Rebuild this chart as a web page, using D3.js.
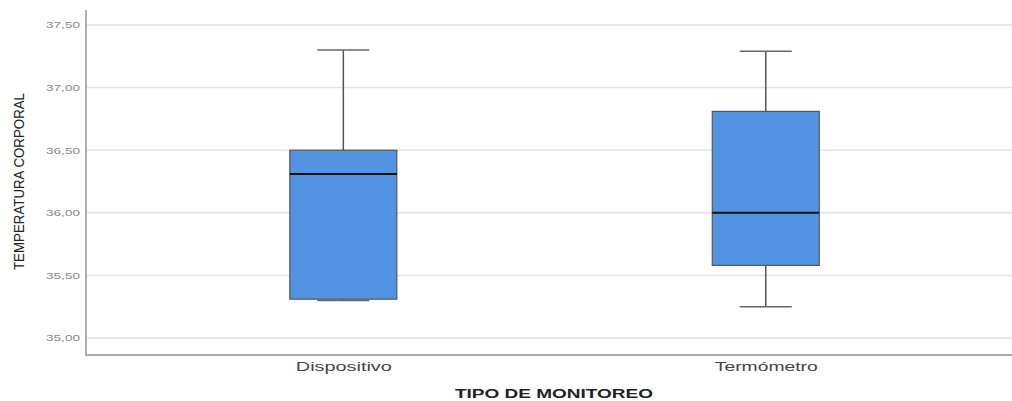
<!DOCTYPE html>
<html><head><meta charset="utf-8">
<script src="https://cdn.jsdelivr.net/npm/d3@7"></script>
<style>body{margin:0;background:#fff}svg{display:block}</style>
</head><body>
<div id="chart"></div>
<script>
const categories = ["Dispositivo", "Termómetro"];
const whiskerLow = [35.30, 35.25];
const q1 = [35.31, 35.58];
const median = [36.31, 36.00];
const q3 = [36.50, 36.81];
const whiskerHigh = [37.30, 37.29];
const yTicks = [35.0, 35.5, 36.0, 36.5, 37.0, 37.5];

const W = 1012, H = 401;
const mLeft = 86, mRight = 1012, mTop = 10, mBottom = 355;
const svg = d3.select("#chart").append("svg").attr("width", W).attr("height", H);

const y = d3.scaleLinear().domain([34.864, 37.62]).range([mBottom, mTop]);
const x = d3.scalePoint().domain(categories).range([mLeft, mRight]).padding(0.596).align(0.511);
const fmt = v => d3.format(".2f")(v).replace(".", ",");

// gridlines
svg.append("g").selectAll("line").data(yTicks).join("line")
  .attr("x1", mLeft).attr("x2", mRight)
  .attr("y1", d => y(d)).attr("y2", d => y(d))
  .attr("stroke", "#e2e2e2").attr("stroke-width", 1.5);

// y axis
const yAxis = svg.append("g").attr("transform", `translate(${mLeft},0)`)
  .call(d3.axisLeft(y).tickValues(yTicks).tickFormat(fmt).tickSize(0).tickPadding(6));
yAxis.select(".domain").remove();
yAxis.selectAll("text").attr("fill", "#8a8a8a").attr("textLength", 34).attr("lengthAdjust", "spacingAndGlyphs")
  .style("font-family", "Liberation Sans, Arial, sans-serif").style("font-size", "9px");
svg.append("line").attr("x1", mLeft).attr("x2", mLeft).attr("y1", mTop).attr("y2", mBottom)
  .attr("stroke", "#b0b0b0").attr("stroke-width", 2);

// x axis
const xAxis = svg.append("g").attr("transform", `translate(0,${mBottom})`)
  .call(d3.axisBottom(x).tickSize(0).tickPadding(7));
xAxis.select(".domain").remove();
xAxis.selectAll("text").attr("fill", "#444").attr("lengthAdjust", "spacingAndGlyphs")
  .attr("textLength", (d, i) => [96, 103][i])
  .style("font-family", "Liberation Sans, Arial, sans-serif").style("font-size", "12.5px");
svg.append("line").attr("x1", mLeft - 1).attr("x2", mRight).attr("y1", mBottom).attr("y2", mBottom)
  .attr("stroke", "#a8a8a8").attr("stroke-width", 2);

// boxes
const bw = 107, cap = 52;
const data = categories.map((c, i) => ({c, lo: whiskerLow[i], q1: q1[i], med: median[i], q3: q3[i], hi: whiskerHigh[i]}));
const g = svg.append("g").selectAll("g").data(data).join("g");
g.append("line").attr("x1", d => x(d.c)).attr("x2", d => x(d.c))
  .attr("y1", d => y(d.hi)).attr("y2", d => y(d.q3)).attr("stroke", "#555").attr("stroke-width", 1.5);
g.append("line").attr("x1", d => x(d.c)).attr("x2", d => x(d.c))
  .attr("y1", d => y(d.q1)).attr("y2", d => y(d.lo)).attr("stroke", "#555").attr("stroke-width", 1.5);
g.append("line").attr("x1", d => x(d.c) - cap/2).attr("x2", d => x(d.c) + cap/2)
  .attr("y1", d => y(d.hi)).attr("y2", d => y(d.hi)).attr("stroke", "#666").attr("stroke-width", 1.5);
g.append("line").attr("x1", d => x(d.c) - cap/2).attr("x2", d => x(d.c) + cap/2)
  .attr("y1", d => y(d.lo)).attr("y2", d => y(d.lo)).attr("stroke", "#666").attr("stroke-width", 1.5);
g.append("rect").attr("x", d => x(d.c) - bw/2).attr("width", bw)
  .attr("y", d => y(d.q3)).attr("height", d => y(d.q1) - y(d.q3))
  .attr("fill", "#5294e2").attr("stroke", "#555").attr("stroke-width", 1.2);
g.append("line").attr("x1", d => x(d.c) - bw/2).attr("x2", d => x(d.c) + bw/2)
  .attr("y1", d => y(d.med)).attr("y2", d => y(d.med)).attr("stroke", "#111").attr("stroke-width", 2);

// titles
svg.append("text").attr("x", 554).attr("y", 398).attr("text-anchor", "middle")
  .attr("textLength", 198).attr("lengthAdjust", "spacingAndGlyphs")
  .style("font-family", "Liberation Sans, Arial, sans-serif").style("font-size", "13px").style("font-weight", "bold")
  .attr("fill", "#222").text("TIPO DE MONITOREO");
svg.append("text").attr("transform", "translate(23.5,181.5) rotate(-90)").attr("text-anchor", "middle")
  .style("font-family", "Liberation Sans Narrow, Arial Narrow, Liberation Sans, sans-serif").style("font-size", "15px")
  .attr("textLength", 177).attr("lengthAdjust", "spacingAndGlyphs")
  .attr("fill", "#222").text("TEMPERATURA CORPORAL");
</script>
</body></html>
